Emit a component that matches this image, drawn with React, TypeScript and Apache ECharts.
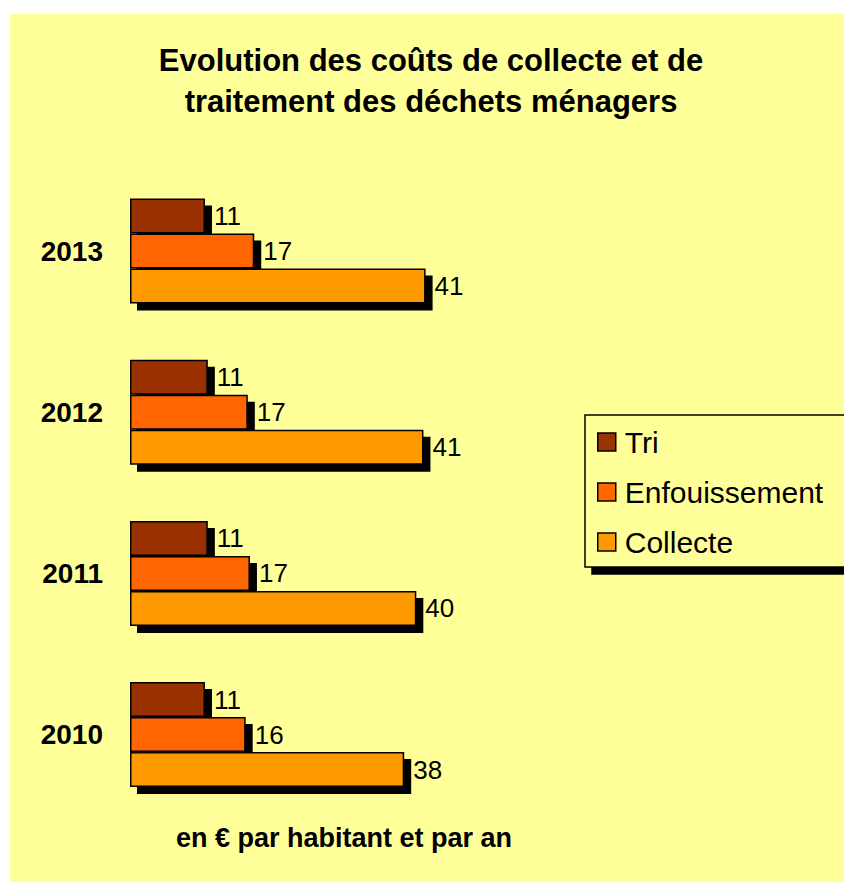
import React, { useEffect, useRef } from "react";
import * as echarts from "echarts";

const years = ["2010", "2011", "2012", "2013"];
const seriesNames = ["Tri", "Enfouissement", "Collecte"];
const tri = [10.5, 10.9, 10.9, 10.5];
const enfouissement = [16.2, 16.8, 16.5, 17.4];
const collecte = [38.4, 40.1, 41.1, 41.4];
const colors = ["#993300", "#FF6600", "#FF9900"];
const titleText = "Evolution des coûts de collecte et de\ntraitement des déchets ménagers";
const footText = "en € par habitant et par an";

const FONT = "'Liberation Sans', Arial, sans-serif";

export default function App() {
  const ref = useRef<HTMLDivElement>(null);
  useEffect(() => {
    if (!ref.current) return;
    const chart = echarts.init(ref.current, null, { renderer: "svg" });
    const values = [tri, enfouissement, collecte];
    chart.setOption({
      animation: false,
      backgroundColor: "#FFFF99",
      textStyle: { fontFamily: FONT },
      graphic: [
        {
          type: "text",
          x: 421,
          y: 26,
          style: {
            text: titleText,
            textAlign: "center",
            fontFamily: FONT,
            fontSize: 31,
            fontWeight: "bold",
            lineHeight: 41,
            fill: "#000",
          },
        },
        {
          type: "text",
          x: 334,
          y: 810,
          style: {
            text: footText,
            textAlign: "center",
            fontFamily: FONT,
            fontSize: 27,
            fontWeight: "bold",
            fill: "#000",
          },
        },
      ],
      legend: {
        orient: "vertical",
        left: 575,
        top: 401,
        data: seriesNames,
        icon: "rect",
        itemWidth: 18,
        itemHeight: 18,
        itemGap: 20,
        padding: [12, 22, 10, 12],
        backgroundColor: "#FFFF99",
        borderColor: "#000",
        borderWidth: 1.5,
        borderRadius: 0,
        shadowColor: "#000",
        shadowBlur: 0,
        shadowOffsetX: 7,
        shadowOffsetY: 7,
        itemStyle: { borderColor: "#000", borderWidth: 1.5 },
        textStyle: {
          fontFamily: FONT,
          fontSize: 30,
          color: "#000",
          lineHeight: 30,
          padding: [0, 0, 0, 4],
        },
      },
      grid: { left: 120, top: 156.5, width: 357, height: 644.7 },
      xAxis: {
        type: "value",
        min: 0,
        max: 50,
        show: false,
        splitLine: { show: false },
      },
      yAxis: {
        type: "category",
        data: years,
        axisLine: { show: false },
        axisTick: { show: false },
        axisLabel: {
          margin: 27,
          fontFamily: FONT,
          fontSize: 28,
          fontWeight: "bold",
          color: "#000",
        },
      },
      series: seriesNames.map((name, i) => ({
        name,
        type: "bar",
        data: values[i],
        barWidth: 35,
        barGap: "0%",
        itemStyle: {
          color: colors[i],
          borderColor: "#000",
          borderWidth: 1.5,
          shadowColor: "#000",
          shadowBlur: 0,
          shadowOffsetX: 7,
          shadowOffsetY: 7,
        },
        label: {
          show: true,
          position: "right",
          distance: 9,
          fontFamily: FONT,
          fontSize: 26,
          color: "#000",
          formatter: (p: any) => String(Math.round(p.value)),
        },
      })),
    });
    return () => chart.dispose();
  }, []);
  return (
    <div
      ref={ref}
      style={{ position: "absolute", left: 10, top: 14, width: 834, height: 868 }}
    />
  );
}
